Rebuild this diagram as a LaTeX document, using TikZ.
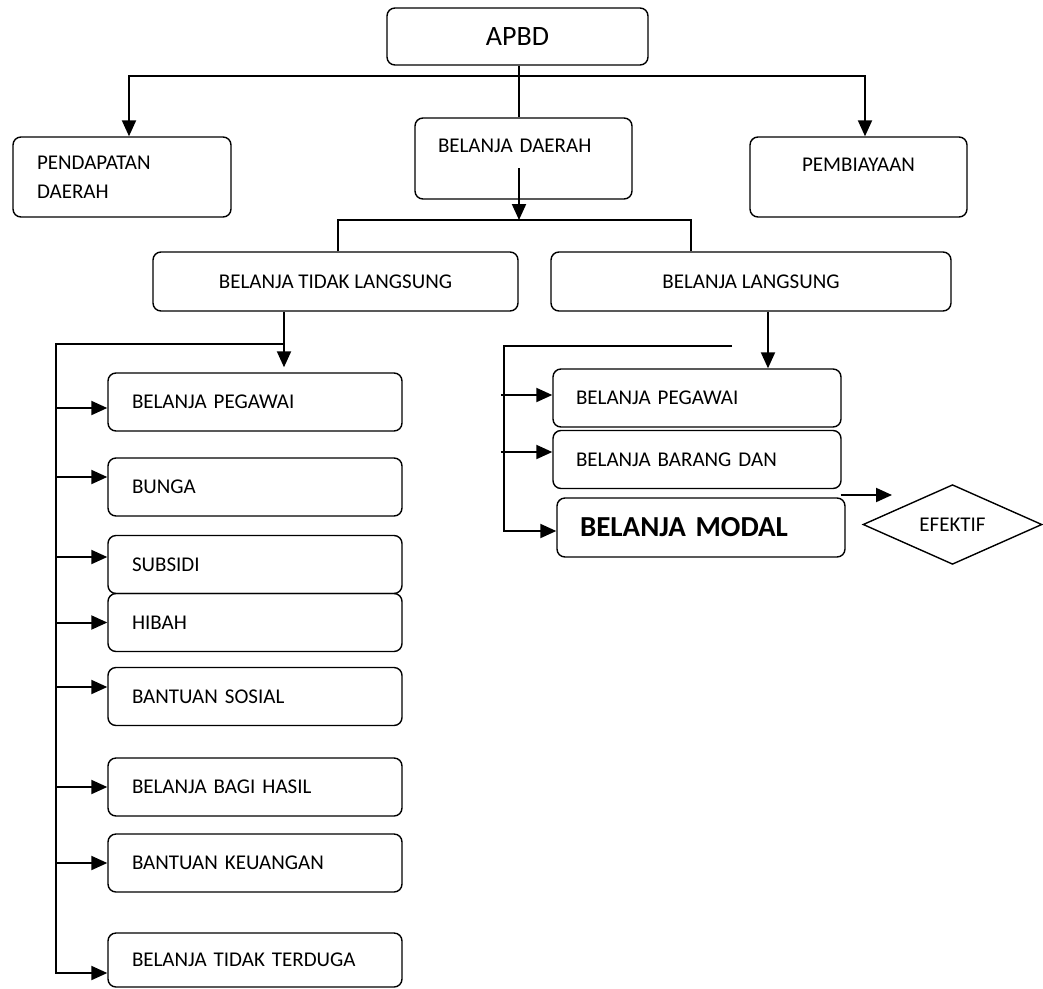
\documentclass[tikz,border=0pt]{standalone}
\usepackage{fontspec}
\setmainfont{Carlito}
\usetikzlibrary{shapes.geometric, arrows.meta, positioning}

\begin{document}
\begin{tikzpicture}[
    x=1pt, y=-1pt,
    box/.style={draw, rounded corners=8pt, line width=1.4pt, inner sep=0pt, font=\fontsize{21}{29}\selectfont},
    leftbox/.style={box, minimum width=294pt, minimum height=58pt, text width=246pt, align=left},
    rightbox/.style={box, minimum width=288pt, minimum height=58pt, text width=242pt, align=left},
    conn/.style={line width=2pt},
    connarrow/.style={line width=2pt, -{Triangle[length=16pt, width=14pt]}}
  ]
  \useasboundingbox (0,0) rectangle (1043,988);

  % Top level
  \node[box, minimum width=261pt, minimum height=57pt, font=\fontsize{28}{32}\selectfont] (apbd) at (517.5,36.5) {APBD};
  \node[box, minimum width=218pt, minimum height=80pt, text width=170pt, align=left] (pd) at (122,177) {PENDAPATAN\\DAERAH};
  \node[box, minimum width=217pt, text height=34.5pt, text depth=46.5pt, text width=171pt, align=left] (bd) at (523.5,158.5) {BELANJA DAERAH};
  \node[box, minimum width=217pt, text height=34.5pt, text depth=45.5pt, align=center] (pb) at (858.5,177) {PEMBIAYAAN};

  \coordinate (topbar) at (519,76);
  \draw[conn] (apbd.south -| topbar) -- (topbar |- bd.north);
  \draw[connarrow] (topbar) -| ([xshift=7pt]pd.north);
  \draw[connarrow] (topbar) -| ([xshift=6.5pt]pb.north);

  % Belanja daerah split
  \node[box, minimum width=365pt, minimum height=59pt] (btl) at (335.5,281.5) {BELANJA TIDAK LANGSUNG};
  \node[box, minimum width=400pt, minimum height=59pt] (bl) at (751,281.5) {BELANJA LANGSUNG};

  \coordinate (bdin) at (519,168);
  \coordinate (bdbar) at (519,220);
  \draw[connarrow] (bdin) -- (bdbar);
  \draw[conn] ([xshift=2.5pt]btl.north) |- (bdbar) -| ([xshift=-60pt]bl.north);

  % Belanja tidak langsung
  \node[leftbox] (tp1) at (255,402) {BELANJA PEGAWAI};
  \node[leftbox] (tp2) at (255,487) {BUNGA};
  \node[leftbox] (tp3) at (255,564.5) {SUBSIDI};
  \node[leftbox] (tp4) at (255,622.5) {HIBAH};
  \node[leftbox] (tp5) at (255,696.5) {BANTUAN SOSIAL};
  \node[leftbox] (tp6) at (255,787) {BELANJA BAGI HASIL};
  \node[leftbox] (tp7) at (255,863) {BANTUAN KEUANGAN};
  \node[leftbox, minimum height=54pt] (tp8) at (255,960) {BELANJA TIDAK TERDUGA};

  \coordinate (lbus) at (56,344);
  \draw[connarrow, shorten >=5pt] ([xshift=-51.5pt]btl.south) -- ([xshift=29pt]tp1.north);
  \draw[connarrow] ([xshift=-51.5pt]btl.south |- lbus) -- (lbus) |- ([yshift=-13pt]tp8.west);
  \draw[connarrow] ([yshift=-6pt]lbus |- tp1.west) -- ([yshift=-6pt]tp1.west);
  \draw[connarrow] ([yshift=10pt]lbus |- tp2.west) -- ([yshift=10pt]tp2.west);
  \draw[connarrow] ([yshift=7.5pt]lbus |- tp3.west) -- ([yshift=7.5pt]tp3.west);
  \draw[connarrow] (lbus |- tp4.west) -- (tp4.west);
  \draw[connarrow] ([yshift=9.5pt]lbus |- tp5.west) -- ([yshift=9.5pt]tp5.west);
  \draw[connarrow] (lbus |- tp6.west) -- (tp6.west);
  \draw[connarrow] (lbus |- tp7.west) -- (tp7.west);

  % Belanja langsung
  \node[rightbox] (rp1) at (697,398) {BELANJA PEGAWAI};
  \node[rightbox] (rp2) at (697,459.5) {BELANJA BARANG DAN};
  \node[rightbox, minimum height=59pt, font=\fontsize{29}{32}\selectfont\bfseries] (rm) at (701,527.5) {BELANJA MODAL};
  \node[diamond, draw, line width=1.4pt, minimum width=179pt, minimum height=71pt, inner sep=0pt, font=\fontsize{21}{25}\selectfont] (ef) at (952.5,524.5) {EFEKTIF};

  \coordinate (rbus) at (504,346);
  \coordinate (rbusend) at (732,346);
  \coordinate (rstub) at (501,346);
  \draw[connarrow] ([xshift=17pt]bl.south) -- ([xshift=71pt]rp1.north);
  \draw[connarrow] (rbusend) -- (rbus) |- ([yshift=-3.5pt]rm.west);
  \draw[connarrow] ([yshift=3pt]rstub |- rp1.west) -- ([yshift=3pt]rp1.west);
  \draw[connarrow] ([yshift=7.5pt]rstub |- rp2.west) -- ([yshift=7.5pt]rp2.west);

  \coordinate (eftip) at (892,495);
  \draw[connarrow] ([xshift=-5pt]rm.north east |- eftip) -- (eftip);
\end{tikzpicture}
\end{document}
